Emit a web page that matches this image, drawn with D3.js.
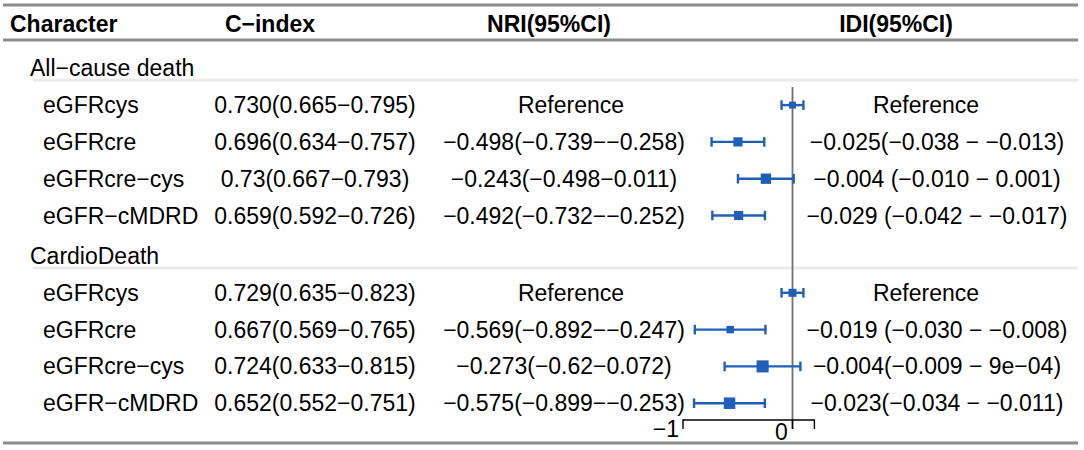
<!DOCTYPE html>
<html>
<head>
<meta charset="utf-8">
<script src="https://cdn.jsdelivr.net/npm/d3@7"></script>
<style>
  html, body { margin: 0; padding: 0; background: #fff; }
  svg text { font-family: "Liberation Sans", Arial, sans-serif; font-size: 23px; fill: #000; }
</style>
</head>
<body>
<svg id="chart" width="1084" height="450"></svg>
<script>
// ---- data ----
const headers = ["Character", "C−index", "NRI(95%CI)", "IDI(95%CI)"];
const groups = ["All−cause death", "CardioDeath"];
const characters = ["eGFRcys", "eGFRcre", "eGFRcre−cys", "eGFR−cMDRD"];

const cIndexAll = ["0.730(0.665−0.795)", "0.696(0.634−0.757)", "0.73(0.667−0.793)", "0.659(0.592−0.726)"];
const cIndexCardio = ["0.729(0.635−0.823)", "0.667(0.569−0.765)", "0.724(0.633−0.815)", "0.652(0.552−0.751)"];

const nriTextAll = ["Reference", "−0.498(−0.739−−0.258)", "−0.243(−0.498−0.011)", "−0.492(−0.732−−0.252)"];
const nriTextCardio = ["Reference", "−0.569(−0.892−−0.247)", "−0.273(−0.62−0.072)", "−0.575(−0.899−−0.253)"];

const idiTextAll = ["Reference", "−0.025(−0.038 − −0.013)", "−0.004 (−0.010 − 0.001)", "−0.029 (−0.042 − −0.017)"];
const idiTextCardio = ["Reference", "−0.019 (−0.030 − −0.008)", "−0.004(−0.009 − 9e−04)", "−0.023(−0.034 − −0.011)"];

// NRI estimates drawn in the forest column (reference row drawn at 0 with a short bar)
const nriEstAll = [0, -0.498, -0.243, -0.492];
const nriLowAll = [-0.1, -0.739, -0.498, -0.732];
const nriHighAll = [0.1, -0.258, 0.011, -0.252];
const nriEstCardio = [0, -0.569, -0.273, -0.575];
const nriLowCardio = [-0.1, -0.892, -0.62, -0.899];
const nriHighCardio = [0.1, -0.247, 0.072, -0.253];

// relative box weights
const boxWeightAll = [0.6, 0.8, 0.9, 0.8];
const boxWeightCardio = [0.7, 0.65, 1.05, 1.0];

const axisTicks = [-1, 0, 0.2];
const axisTickLabels = ["−1", "0", ""];

// ---- layout ----
const BLUE = "#1f5fb8";
const colCenter = {cindex: 315, nri: 564, idi: 937};
const refCenter = {nri: 571, idi: 926};
const headerX = [10, 270, 549, 896];

const svg = d3.select("#chart");

// build the table rows
const blocks = [
    {group: groups[0], cidx: cIndexAll, nri: nriTextAll, idi: idiTextAll,
     est: nriEstAll, lo: nriLowAll, hi: nriHighAll, w: boxWeightAll},
    {group: groups[1], cidx: cIndexCardio, nri: nriTextCardio, idi: idiTextCardio,
     est: nriEstCardio, lo: nriLowCardio, hi: nriHighCardio, w: boxWeightCardio}
];
let rows = [];
blocks.forEach((b, g) => {
    rows.push({type: "group", label: b.group, g: g});
    characters.forEach((c, i) => rows.push({
        type: "item", g: g, label: c, cidx: b.cidx[i], nri: b.nri[i], idi: b.idi[i],
        est: b.est[i], lo: b.lo[i], hi: b.hi[i], w: b.w[i]
    }));
});
rows.forEach((r, i) => r.idx = i);

const yIdx = d3.scaleLinear().domain([0, rows.length - 1]).range([68.3, 68.3 + 36.8 * (rows.length - 1)]);
const y = r => yIdx(r.idx) + (r.g > 0 ? 3.7 : 0);

const x = d3.scaleLinear().domain([-1, 0]).range([683, 792.5]);
const boxSize = d3.scaleLinear().domain([0, 1]).range([0, 11.5]);

// ---- rules ----
function hline(yy, x0, x1, color, width){
    svg.append("line")
        .attr("x1", x0).attr("x2", x1)
        .attr("y1", yy).attr("y2", yy)
        .attr("stroke", color)
        .attr("stroke-width", width);
}
hline(5, 3, 1078, "#8c8c8c", 3);
hline(40, 3, 1078, "#8c8c8c", 3);
hline(443, 3, 1078, "#8c8c8c", 3);
rows.filter(r => r.type == "group").forEach(r => hline(y(r) + 12, 33, 1078, "#ebebeb", 3));

// ---- header ----
svg.selectAll("text.header")
    .data(headers)
    .join("text")
        .attr("class", "header")
        .attr("x", (d, i) => headerX[i])
        .attr("y", 31.5)
        .attr("text-anchor", (d, i) => i == 0 ? "start" : "middle")
        .style("font-weight", "bold")
        .text(d => d);

// ---- body text ----
const body = svg.append("g");
body.selectAll("text.group")
    .data(rows.filter(r => r.type == "group"))
    .join("text")
        .attr("class", "group")
        .attr("x", 30)
        .attr("y", y)
        .attr("dy", "0.35em")
        .text(d => d.label);

const items = rows.filter(r => r.type == "item");
body.selectAll("text.char")
    .data(items)
    .join("text")
        .attr("x", 43)
        .attr("y", y)
        .attr("dy", "0.35em")
        .text(d => d.label);

body.selectAll("text.cidx")
    .data(items)
    .join("text")
        .attr("x", colCenter.cindex)
        .attr("y", y)
        .attr("dy", "0.35em")
        .attr("text-anchor", "middle")
        .text(d => d.cidx);

["nri", "idi"].forEach(k => {
    body.selectAll("text." + k)
        .data(items)
        .join("text")
            .attr("x", d => d[k] == "Reference" ? refCenter[k] : colCenter[k])
            .attr("y", y)
            .attr("dy", "0.35em")
            .attr("text-anchor", "middle")
            .text(d => d[k]);
});

// ---- forest column ----
const plot = svg.append("g");

plot.append("line")
    .attr("x1", x(0)).attr("x2", x(0))
    .attr("y1", 87).attr("y2", 429)
    .attr("stroke", "#707070")
    .attr("stroke-width", 1.8);

const marks = plot.selectAll("g.mark")
    .data(items)
    .join("g")
        .attr("class", "mark");

marks.append("line")
    .attr("x1", d => x(d.lo)).attr("x2", d => x(d.hi))
    .attr("y1", y).attr("y2", y)
    .attr("stroke", BLUE).attr("stroke-width", 2.4);
marks.append("line")
    .attr("x1", d => x(d.lo)).attr("x2", d => x(d.lo))
    .attr("y1", d => y(d) - 4.8).attr("y2", d => y(d) + 4.8)
    .attr("stroke", BLUE).attr("stroke-width", 2.4);
marks.append("line")
    .attr("x1", d => x(d.hi)).attr("x2", d => x(d.hi))
    .attr("y1", d => y(d) - 4.8).attr("y2", d => y(d) + 4.8)
    .attr("stroke", BLUE).attr("stroke-width", 2.4);
marks.append("rect")
    .attr("x", d => x(d.est) - boxSize(d.w) / 2)
    .attr("y", d => y(d) - boxSize(d.w) / 2)
    .attr("width", d => boxSize(d.w))
    .attr("height", d => boxSize(d.w))
    .attr("fill", BLUE);

// axis
const axisY = 420;
plot.append("line")
    .attr("x1", x(axisTicks[0])).attr("x2", x(axisTicks[axisTicks.length - 1]))
    .attr("y1", axisY).attr("y2", axisY)
    .attr("stroke", "#000").attr("stroke-width", 1.4);
plot.selectAll("line.tick")
    .data(axisTicks)
    .join("line")
        .attr("class", "tick")
        .attr("x1", d => x(d)).attr("x2", d => x(d))
        .attr("y1", axisY - 0.7).attr("y2", axisY + 9)
        .attr("stroke", "#000").attr("stroke-width", 1.4);
plot.selectAll("text.ticklab")
    .data(axisTicks)
    .join("text")
        .attr("class", "ticklab")
        .attr("x", (d, i) => i == 0 ? x(d) - 4 : x(d) - 11)
        .attr("y", (d, i) => i == 0 ? 437 : 440)
        .attr("text-anchor", (d, i) => i == 0 ? "end" : "middle")
        .text((d, i) => axisTickLabels[i]);
</script>
</body>
</html>
